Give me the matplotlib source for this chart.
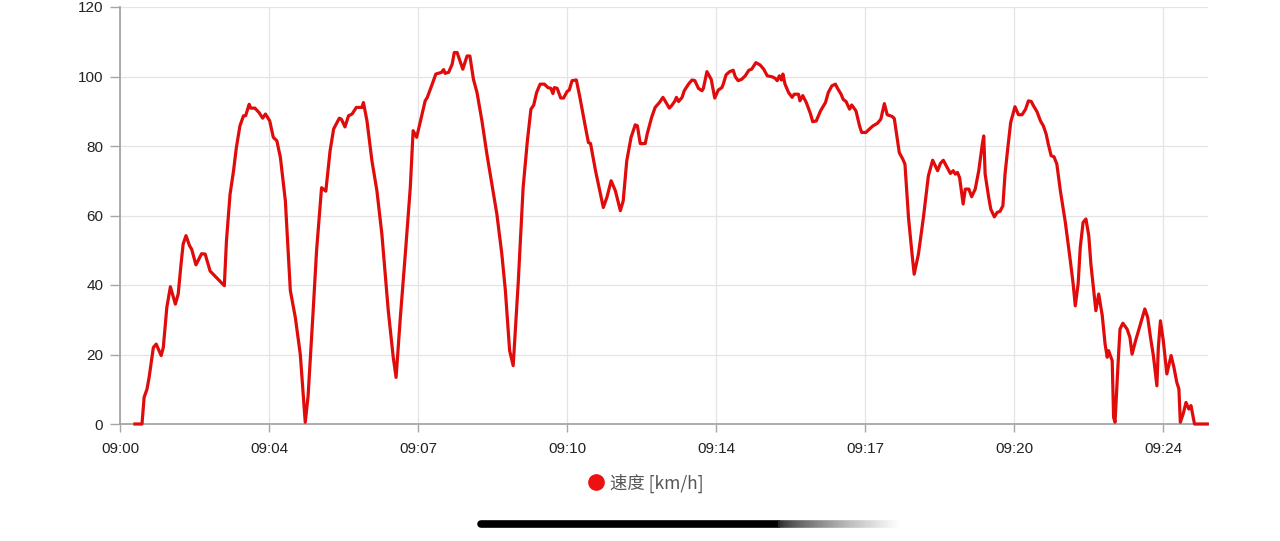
import numpy as np
import matplotlib.pyplot as plt
from matplotlib.lines import Line2D

# seconds after 09:00 and speed in km/h
seconds = [21, 31, 34, 38, 41, 47, 51, 58, 61, 66, 71, 78, 82, 86, 89, 93, 98, 101, 107, 115,
           120, 127, 147, 150, 155, 160, 164, 169, 174, 177, 182, 184, 190, 196, 201, 205, 211, 216, 221, 226,
           233, 240, 247, 254, 261, 265, 272, 277, 284, 290, 296, 301, 309, 312, 317, 322, 327, 333, 341, 343,
           348, 355, 362, 369, 378, 385, 389, 395, 402, 409, 413, 418, 425, 430, 433, 439, 445, 453, 456, 458,
           463, 468, 471, 475, 479, 483, 489, 493, 498, 503, 510, 517, 524, 531, 538, 543, 549, 554, 561, 568,
           574, 579, 583, 587, 592, 598, 603, 607, 610, 612, 616, 621, 625, 630, 633, 637, 643, 648, 655, 660,
           663, 670, 677, 681, 686, 692, 698, 705, 709, 714, 720, 726, 729, 733, 740, 743, 749, 754, 760, 765,
           768, 774, 778, 782, 784, 787, 792, 795, 801, 806, 810, 815, 820, 822, 827, 833, 838, 843, 848, 850,
           854, 859, 864, 867, 871, 876, 881, 886, 890, 896, 902, 907, 912, 919, 923, 926, 929, 932, 934, 937,
           942, 947, 950, 956, 958, 962, 967, 973, 976, 981, 987, 994, 998, 1003, 1008, 1011, 1016, 1019, 1023, 1028,
           1031, 1037, 1042, 1045, 1051, 1056, 1061, 1067, 1072, 1077, 1081, 1088, 1091, 1095, 1098, 1103, 1106, 1111, 1116, 1119,
           1125, 1132, 1139, 1145, 1152, 1156, 1160, 1165, 1170, 1174, 1177, 1180, 1183, 1188, 1191, 1196, 1200, 1205, 1210, 1215,
           1217, 1219, 1224, 1227, 1232, 1236, 1240, 1244, 1247, 1251, 1255, 1261, 1266, 1271, 1276, 1280, 1284, 1287, 1292, 1297,
           1301, 1305, 1308, 1312, 1316, 1320, 1325, 1332, 1339, 1343, 1346, 1350, 1353, 1357, 1361, 1365, 1368, 1372, 1375, 1379,
           1384, 1388, 1391, 1393, 1398, 1400, 1402, 1406, 1409, 1413, 1419, 1423, 1426, 1431, 1435, 1440, 1444, 1448, 1452, 1456,
           1461, 1463, 1466, 1470, 1475, 1481, 1485, 1489, 1492, 1494, 1498, 1502, 1506, 1509, 1514, 1532]
speed = [0, 0, 7.7, 10, 13.4, 22, 23, 19.7, 22, 33.6, 39.5, 34.5, 37.4, 46, 51.8, 54.2, 51.3, 50.3, 45.8, 49,
         48.9, 44, 39.8, 52.7, 66, 72.9, 79.6, 85.8, 88.7, 88.7, 92, 90.9, 90.9, 89.6, 88, 89.2, 87.2, 82.5, 81.5, 76.7,
         64.2, 38.4, 30.7, 20.1, 0.5, 8, 32, 50, 68, 67, 78.6, 84.9, 88, 87.7, 85.5, 88.7, 89.2, 91.1, 91.1, 92.5,
         87.2, 75.7, 67.1, 54.6, 32.6, 19.2, 13.4, 30.7, 48.9, 68, 84.4, 82.5, 88.7, 93, 94, 97.3, 100.7, 101.2, 102, 100.9,
         101.2, 103.5, 106.9, 106.9, 104.5, 102.1, 105.9, 105.9, 99.2, 95.4, 87.2, 77.6, 69, 60.4, 48.9, 38.4, 21.1, 16.8, 40.3, 68,
         81.5, 90.6, 91.8, 95.4, 97.8, 97.8, 96.8, 96.6, 95.1, 96.8, 96.6, 93.8, 93.8, 95.7, 96.1, 98.8, 99, 94, 86.3, 81,
         80.7, 72.9, 66.2, 62.3, 65.2, 70, 67.1, 61.4, 64.2, 75.7, 82.4, 86.1, 85.8, 80.7, 80.7, 83.6, 88.2, 91.1, 92.5, 94,
         93, 90.9, 91.8, 93, 94, 92.8, 94, 95.9, 97.8, 99, 98.8, 96.6, 95.9, 96.6, 101.4, 99.2, 93.8, 96.1, 96.8, 97.8,
         100.5, 101.4, 101.8, 99.9, 98.8, 99.2, 100.2, 101.8, 102.1, 104, 103.3, 102.1, 100.2, 99.9, 99.5, 98.8, 100.2, 99, 100.7, 97.8,
         95.4, 94, 94.9, 94.9, 93, 94.5, 92.5, 89.2, 87, 87.2, 90.1, 92.5, 95.4, 97.3, 97.8, 96.6, 94.9, 93.4, 92.8, 90.6,
         91.8, 90.1, 85.8, 83.9, 83.9, 84.9, 85.8, 86.5, 87.7, 92.2, 89, 88.5, 87.9, 82.3, 78.1, 76.2, 74.8, 59.4, 48.9, 43.1,
         48.9, 59.4, 71.4, 75.9, 72.9, 75, 75.9, 74, 72.1, 72.9, 71.9, 72.4, 70.9, 63.3, 67.6, 67.6, 65.4, 67.6, 72.9, 80.5,
         82.9, 71.9, 65.2, 61.8, 59.6, 60.9, 61.2, 62.8, 71.9, 79.6, 86.8, 91.3, 89, 89, 90.6, 93, 92.8, 91.6, 89.9, 87.2,
         85.8, 83.4, 80.5, 77.2, 76.9, 74.8, 67.1, 58, 47, 40.3, 34, 40.3, 50.8, 58, 59, 54.2, 46, 38.4, 32.6, 37.4,
         31.2, 23, 19.2, 21.1, 18.2, 1.9, 0.5, 16.3, 27.3, 29, 27.3, 24.9, 20.1, 24, 26.8, 30.2, 33.1, 30.7, 24.9, 19.7,
         11, 22, 29.7, 24, 14.4, 19.7, 16.3, 12, 10.1, 0.5, 2.9, 6.2, 4.3, 5.3, 0, 0]

tick_seconds = [0, 210, 420, 630, 840, 1050, 1260, 1470]
tick_labels = ["09:00", "09:04", "09:07", "09:10", "09:14", "09:17", "09:20", "09:24"]

plt.rcParams['font.family'] = ['Liberation Sans', 'Noto Sans CJK SC', 'DejaVu Sans']

fig = plt.figure(figsize=(12.8, 5.41), dpi=100)
ax = fig.add_axes([120 / 1280, 1 - 424 / 541, 1088 / 1280, 417 / 541])

ax.plot(seconds, speed, color="#e00c0c", lw=2.3, solid_joinstyle="round", clip_on=False, zorder=4)

ax.set_xlim(0, 1533)
ax.set_ylim(0, 120)
ax.set_yticks(np.arange(0, 121, 20))
ax.set_xticks(tick_seconds)
ax.set_xticklabels(tick_labels)
ax.grid(True, color="#e4e4e4", lw=0.9)
ax.set_axisbelow(True)
for s in ["top", "right"]:
    ax.spines[s].set_visible(False)
for s in ["left", "bottom"]:
    ax.spines[s].set_color("#a6a6a6")
    ax.spines[s].set_linewidth(1.3)
ax.tick_params(axis="y", length=7, width=1.0, color="#a6a6a6", labelsize=11, labelcolor="#222222", pad=5)
ax.tick_params(axis="x", length=6, width=1.0, color="#a6a6a6", labelsize=11, labelcolor="#222222", pad=7)

# legend
legend_handle = Line2D([], [], marker="o", color="none", markerfacecolor="#ee1111",
                       markeredgecolor="#ee1111", markersize=11)
fig.legend([legend_handle], ["速度 [km/h]"], loc="center", bbox_to_anchor=(645 / 1280, 1 - 483 / 541),
           frameon=False, fontsize=12.5, labelcolor="#555555", handletextpad=0.2, handlelength=1.2,
           prop={"family": ["Noto Sans CJK SC", "DejaVu Sans"], "size": 12.5})

# phone home indicator at the bottom
fig.add_artist(Line2D([481 / 1280, 778 / 1280], [1 - 524 / 541] * 2, color="black", lw=5.5,
                      solid_capstyle="round", transform=fig.transFigure))
fade = np.linspace(0, 1, 60)
fade_x = np.linspace(778, 900, 61) / 1280
for i in range(60):
    c = str(0.15 + 0.85 * fade[i] ** 0.7)
    fig.add_artist(Line2D([fade_x[i], fade_x[i + 1]], [1 - 524 / 541] * 2, color=c, lw=5.5,
                          solid_capstyle="butt", transform=fig.transFigure))

fig.savefig("out.png", dpi=100)
